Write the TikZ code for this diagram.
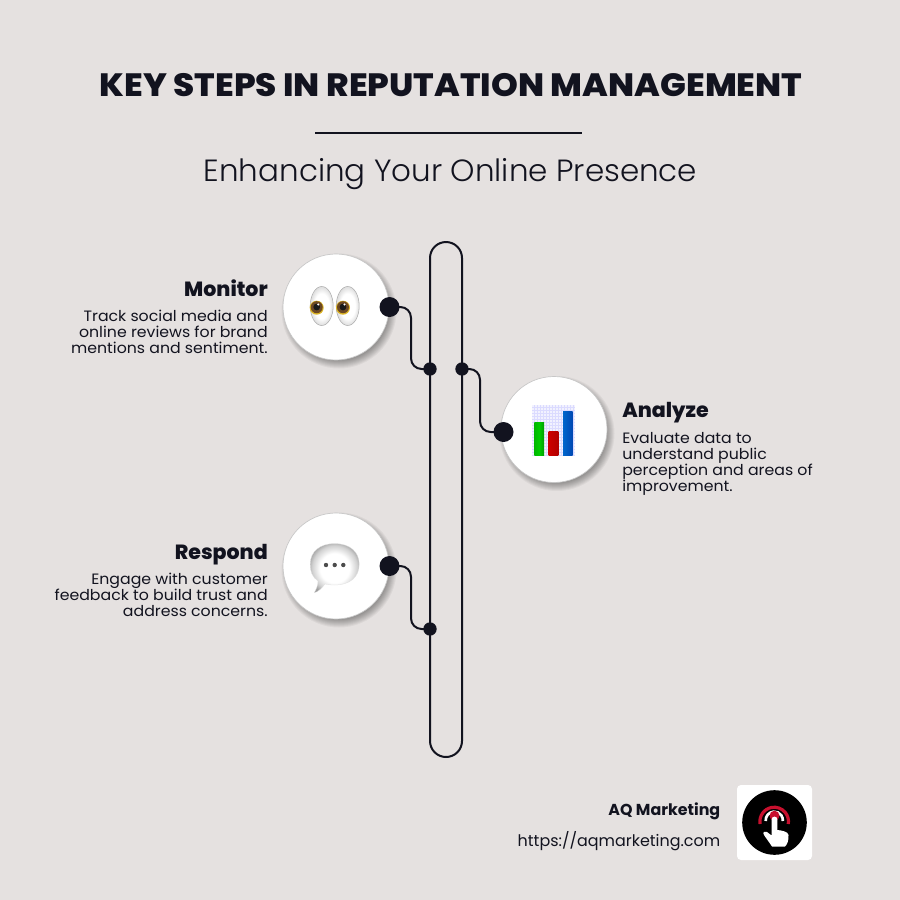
\documentclass[tikz,border=0pt]{standalone}
\usepackage{fontspec}
\setmainfont{Poppins}
\newfontfamily\lightfont{Poppins Light}[FakeStretch=1.01]
\newfontfamily\descfont{Poppins}[FakeStretch=1.05]
\newfontfamily\heavyfont{Poppins ExtraBold}[FakeStretch=1.058]
\newfontfamily\headfont{Poppins ExtraBold}
\usetikzlibrary{calc}
\definecolor{bgc}{HTML}{E5E1E0}
\definecolor{ink}{HTML}{12131F}
\definecolor{logored}{HTML}{C8102E}
\pgfdeclareradialshading{softball}{\pgfpoint{0bp}{0bp}}{color(0bp)=(white); color(15bp)=(white); color(23bp)=(black!18); color(28bp)=(black!38); color(50bp)=(black!38)}
\pgfdeclareradialshading{softeye}{\pgfpoint{0bp}{0bp}}{color(0bp)=(white); color(16bp)=(white); color(24bp)=(black!12); color(50bp)=(black!25)}
\tikzset{
  x=0.75pt,y=-0.75pt,
  conn/.style={draw=ink,line width=1.5pt,rounded corners=8pt},
  bigdot/.style={circle,fill=ink,inner sep=0pt,minimum size=15pt},
  smalldot/.style={circle,fill=ink,inner sep=0pt,minimum size=10pt},
  disc/.style={circle,fill=white,draw=black!22,line width=0.5pt,inner sep=0pt,minimum size=79.5pt},
  head/.style={font=\headfont\fontsize{15.4}{18}\selectfont,text=ink,inner sep=0pt},
  desc/.style={font=\descfont\fontsize{11.25}{12}\selectfont,text=ink,inner sep=0pt},
}
\newcommand{\softshadow}[2]{%
  \foreach \r in {57.5,56.5,55.5,54.5,53.5,52.5,51.5,50.5,49.5}{\fill[black,opacity=0.045] (#1+3,#2+4) circle[radius=\r];}%
}
\begin{document}
\begin{tikzpicture}
\useasboundingbox (0,0) rectangle (900,900);
\fill[bgc] (0,0) rectangle (900,900);
% titles
\node[anchor=base,text=ink,inner sep=0pt,font=\heavyfont\fontsize{24.2}{28}\selectfont] (title) at (451,96) {KEY STEPS IN REPUTATION MANAGEMENT};
\coordinate (ruleL) at (315,132.5); \coordinate (ruleR) at (582,132.5);
\draw[ink,line width=1.5pt] (ruleL) -- (ruleR);
\node[anchor=base,text=ink,inner sep=0pt,font=\lightfont\fontsize{23}{28}\selectfont] (subtitle) at (450.5,181) {Enhancing Your Online Presence};
% shadows
\softshadow{336}{307}
\softshadow{554}{429.5}
\softshadow{336}{566}
% pill
\draw[ink,line width=1.5pt] (430,258) arc[start angle=180,end angle=360,radius=16] -- (462,741) arc[start angle=0,end angle=180,radius=16] -- cycle;
% discs
\node[disc] (d1) at (336,307) {};
\node[disc] (d2) at (554,429.5) {};
\node[disc] (d3) at (336,566) {};
% dots
\node[smalldot] (s1) at (430,369) {};
\node[smalldot] (s2) at (462,369) {};
\node[smalldot] (s3) at (430,629) {};
\node[bigdot] (b1) at (389.5,307) {};
\node[bigdot] (b2) at (503.5,432) {};
\node[bigdot] (b3) at (389.5,566) {};
% connectors
\draw[conn] (b1.center) -- (b1.center -| 411,0) -- (s1.center -| 411,0) -- (s1.center);
\draw[conn] (s2.center) -- (s2.center -| 480,0) -- (b2.center -| 480,0) -- (b2.center);
\draw[conn] (b3.center) -- (b3.center -| 411,0) -- (s3.center -| 411,0) -- (s3.center);
% eyes emoji
\foreach \cx/\px in {321.7/316.7,347.7/343}{
  \shade[shading=softeye,draw=black!32,line width=0.4pt] (\cx,306) ellipse[x radius=11.5,y radius=19.5];
  \fill[yellow!60!orange!85!black] (\px,307.7) circle[radius=7];
  \fill[black!40!brown!95!black] (\px,307.2) circle[radius=6];
  \fill[black!90] (\px,307) circle[radius=3.4];
  \fill[white] (\px+1.5,304.5) circle[radius=1.1];
}
% chart emoji
\fill[blue!5!white] (532.3,405) rectangle (575,455.7);
\foreach \gx in {534,537,...,575}{\draw[blue!14!white,line width=0.25pt] (\gx,405) -- (\gx,455.7);}
\foreach \gy in {407,410,...,455}{\draw[blue!14!white,line width=0.25pt] (532.3,\gy) -- (575,\gy);}
\shade[left color=green!72!black,right color=green!62!black,middle color=green!80!black] (534.3,422.7) rectangle (544,455.3);
\shade[left color=red!80!black,right color=red!70!black] (548.7,431.7) rectangle (558.3,455.3);
\shade[left color=blue!50!cyan!80!black,right color=blue!60!cyan!70!black] (563,411.3) rectangle (572.7,455.3);
% bubble emoji
\shade[shading=softball,draw=black!12,line width=0.2pt]
 (334.7,543.6) .. controls (350,543.6) and (359.2,552) .. (359.2,564.3)
 .. controls (359.2,577) and (350,585) .. (334.7,585)
 .. controls (330,585) and (327,584.6) .. (325,584)
 .. controls (322,588) and (318,592) .. (314.3,592.7)
 .. controls (316.5,589) and (318,585) .. (318,581)
 .. controls (312,577) and (310.2,571) .. (310.2,564.3)
 .. controls (310.2,552) and (319.4,543.6) .. (334.7,543.6) -- cycle;
\foreach \qx in {326,334.7,343.3}{\fill[black!70] (\qx,565) circle[radius=2.2];}
% text
\node[head,anchor=base east] (h1) at (268,296) {Monitor};
\node[desc,anchor=north east,align=right] (t1) at (268,310) {Track social media and\\online reviews for brand\\mentions and sentiment.};
\node[head,anchor=base west] (h2) at (622,417) {Analyze};
\node[desc,anchor=north west,align=left] (t2) at (622,432) {Evaluate data to\\understand public\\perception and areas of\\improvement.};
\node[head,anchor=base east] (h3) at (268,559) {Respond};
\node[desc,anchor=north east,align=right] (t3) at (268,573) {Engage with customer\\feedback to build trust and\\address concerns.};
% footer
\node[anchor=base east,inner sep=0pt,text=ink,font=\fontsize{11.9}{14}\selectfont\bfseries] (brand) at (720.5,815) {AQ Marketing};
\node[anchor=base east,inner sep=0pt,text=ink,font=\fontsize{11.95}{14}\selectfont] (url) at (720.5,846) {https://aqmarketing.com};
% logo
\fill[white,rounded corners=3pt] (737,785) rectangle (812,860);
\fill[black] (774.5,822.5) circle[radius=32.3];
\draw[logored,line width=2.4pt] (760.1,824) arc[start angle=170,end angle=370,radius=14.3];
\draw[white,line width=2pt] (765.7,821) arc[start angle=175,end angle=365,radius=8.6];
\fill[logored] (774.5,815.7) circle[radius=5];
\fill[white] (771.6,819.5) arc[start angle=180,end angle=360,radius=2.9] -- (777.4,830)
 .. controls (782,830.5) and (788,831.5) .. (788.5,835)
 .. controls (789,840) and (787,845) .. (785,846.5)
 -- (772,846.5)
 .. controls (769,842) and (766,838) .. (764,835)
 .. controls (762,832) and (765,830.5) .. (767,832)
 -- (771.6,835.5) -- cycle;
\end{tikzpicture}
\end{document}
